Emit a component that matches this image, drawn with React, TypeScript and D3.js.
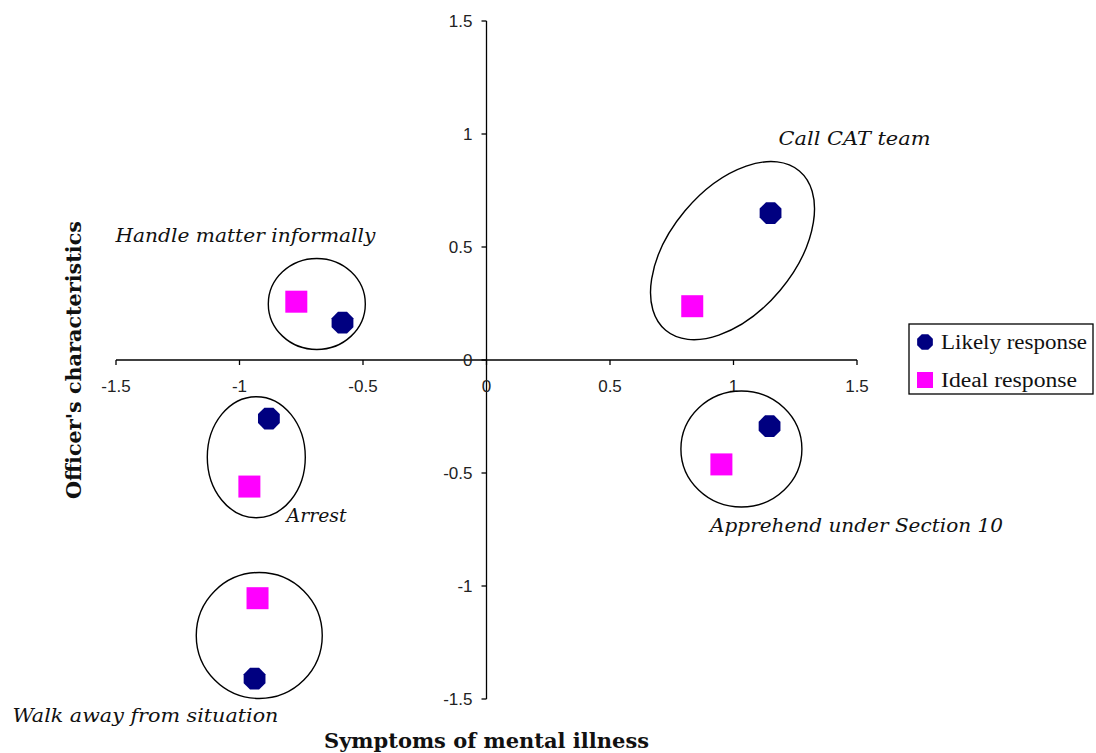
import React from "react";
import * as d3 from "d3";

const categories = ["Call CAT team", "Handle matter informally", "Arrest", "Apprehend under Section 10", "Walk away from situation"];
const likelyX = [1.15, -0.583, -0.881, 1.146, -0.939];
const likelyY = [0.65, 0.165, -0.259, -0.293, -1.41];
const idealX = [0.833, -0.77, -0.96, 0.951, -0.927];
const idealY = [0.238, 0.258, -0.56, -0.462, -1.054];
const xTicks = [-1.5, -1, -0.5, 0, 0.5, 1, 1.5];
const yTicks = [-1.5, -1, -0.5, 0, 0.5, 1, 1.5];
const seriesNames = ["Likely response", "Ideal response"];

// group outlines (centre in data units, radii in px, rotation deg)
const groupCX = [0.996, -0.687, -0.932, 1.032, -0.92];
const groupCY = [0.484, 0.248, -0.43, -0.394, -1.219];
const groupRX = [104, 48.5, 49, 60.5, 63];
const groupRY = [62, 45.5, 60.5, 58, 63];
const groupRot = [-50, 0, 0, 0, 0];
// label anchors in data units
const labelX = [1.49, -0.976, -0.688, 1.498, -1.381];
const labelY = [0.953, 0.52, -0.715, -0.763, -1.6];
const labelW = [152, 260, 60, 293, 266];

const W = 1096, H = 753;
const x = d3.scaleLinear().domain([-1.5, 1.5]).range([116, 857]);
const y = d3.scaleLinear().domain([-1.5, 1.5]).range([699, 21]);

const octagon = (cx: number, cy: number, r: number) => {
  const pts = d3.range(8).map((i) => {
    const a = (Math.PI / 4) * i + Math.PI / 8;
    return [cx + r * Math.cos(a), cy + r * Math.sin(a)] as [number, number];
  });
  return "M" + pts.map((p) => p.join(",")).join("L") + "Z";
};

export default function App() {
  const x0 = x(0), y0 = y(0);
  const tickFont = "'Liberation Sans', Arial, sans-serif";
  const serif = "'Liberation Serif', 'Times New Roman', serif";
  return (
    <svg width={W} height={H} style={{ position: "absolute", left: 0, top: 0, background: "#fff" }}>
      {/* axes */}
      <line x1={x(-1.5)} x2={x(1.5)} y1={y0} y2={y0} stroke="#000" strokeWidth={1.3} />
      <line x1={x0} x2={x0} y1={y(1.5)} y2={y(-1.5)} stroke="#000" strokeWidth={1.3} />
      {xTicks.map((t) => (
        <g key={"xt" + t}>
          <line x1={x(t)} x2={x(t)} y1={y0} y2={y0 + 5} stroke="#000" strokeWidth={1.3} />
          <text x={x(t)} y={y0 + 32} textAnchor="middle" fontFamily={tickFont} fontSize={17} fill="#222">
            {t}
          </text>
        </g>
      ))}
      {yTicks.map((t) => (
        <g key={"yt" + t}>
          <line x1={x0 - 5} x2={x0} y1={y(t)} y2={y(t)} stroke="#000" strokeWidth={1.3} />
          <text x={x0 - 14} y={y(t) + 6} textAnchor="end" fontFamily={tickFont} fontSize={17} fill="#222">
            {t}
          </text>
        </g>
      ))}
      {/* group outlines */}
      {categories.map((c, i) => (
        <ellipse
          key={"el" + c}
          cx={x(groupCX[i])}
          cy={y(groupCY[i])}
          rx={groupRX[i]}
          ry={groupRY[i]}
          transform={`rotate(${groupRot[i]} ${x(groupCX[i])} ${y(groupCY[i])})`}
          fill="none"
          stroke="#000"
          strokeWidth={1.4}
        />
      ))}
      {/* ideal squares */}
      {categories.map((c, i) => (
        <rect key={"sq" + c} x={x(idealX[i]) - 11} y={y(idealY[i]) - 11} width={22} height={22} fill="#FF00FF" />
      ))}
      {/* likely octagons */}
      {categories.map((c, i) => (
        <path key={"oc" + c} d={octagon(x(likelyX[i]), y(likelyY[i]), 11.8)} fill="#000080" />
      ))}
      {/* labels */}
      {categories.map((c, i) => (
        <text
          key={"lb" + c}
          x={x(labelX[i])}
          y={y(labelY[i])}
          textAnchor="middle"
          fontFamily="'DejaVu Serif', serif"
          fontStyle="italic"
          fontSize={18}
          textLength={labelW[i]}
          lengthAdjust="spacingAndGlyphs"
          fill="#111"
        >
          {c}
        </text>
      ))}
      {/* axis titles */}
      <text x={x0} y={748} textAnchor="middle" fontFamily="'DejaVu Serif', serif" fontWeight="bold" fontSize={20}
        textLength={325} lengthAdjust="spacingAndGlyphs" fill="#111">
        Symptoms of mental illness
      </text>
      <text transform={`translate(81, ${y0}) rotate(-90)`} textAnchor="middle" fontFamily="'DejaVu Serif', serif"
        fontWeight="bold" fontSize={20} textLength={278} lengthAdjust="spacingAndGlyphs" fill="#111">
        Officer's characteristics
      </text>
      {/* legend */}
      <rect x={909} y={324} width={184} height={70} fill="#fff" stroke="#000" strokeWidth={1.3} />
      <path d={octagon(925, 342, 8.5)} fill="#000080" />
      <rect x={917} y={372} width={16} height={16} fill="#FF00FF" />
      <text x={941} y={349} fontFamily={serif} fontSize={20} textLength={146} lengthAdjust="spacingAndGlyphs" fill="#111">
        {seriesNames[0]}
      </text>
      <text x={941} y={387} fontFamily={serif} fontSize={20} textLength={136} lengthAdjust="spacingAndGlyphs" fill="#111">
        {seriesNames[1]}
      </text>
    </svg>
  );
}
